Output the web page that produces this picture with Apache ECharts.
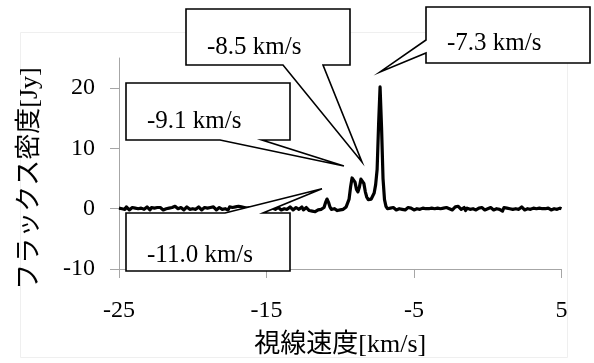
<!DOCTYPE html>
<html><head><meta charset="utf-8">
<script src="https://cdn.jsdelivr.net/npm/echarts@6/dist/echarts.min.js"></script>
<style>html,body{margin:0;padding:0;background:#fff}#c{width:594px;height:363px}</style>
</head><body><div id="c"></div>
<script>
// ---- data ----
const velocityStart = -25;   // km/s, first channel
const velocityStep = 0.1;    // km/s per channel
const flux = [
  0.1, -0.2, 0.0, 0.2, -0.1, 0.3, 0.1, -0.2, 0.0, 0.2,
  -0.1, 0.1, 0.3, 0.0, -0.2, 0.1, 0.2, -0.1, 0.0, 0.3,
  0.1, -0.2, 0.2, 0.0, 0.1, -0.1, 0.2, 0.4, 0.2, 0.0,
  -0.2, 0.1, 0.0, 0.3, 0.1, -0.1, 0.2, 0.0, 0.4, 0.2,
  0.0, -0.1, 0.2, 0.1, -0.2, 0.0, 0.3, 0.1, -0.1, 0.2,
  0.0, 0.2, -0.1, 0.1, 0.3, 0.0, -0.2, 0.1, 0.2, -0.1,
  0.1, 0.0, 0.2, -0.1, 0.3, 0.1, -0.2, 0.0, 0.2, 0.1,
  -0.1, 0.2, 0.0, 0.1, -0.2, 0.3, 0.1, 0.2, 0.0, 0.3,
  0.2, 0.4, 0.6, 0.3, 0.1, 0.2, -0.1, 0.1, 0.0, 0.2,
  -0.1, 0.1, 0.3, 0.0, -0.2, 0.2, 0.1, -0.1, 0.3, 0.0,
  0.1, -0.2, 0.2, 0.0, 0.1, 0.3, -0.1, 0.0, 0.2, 0.1,
  -0.2, 0.1, 0.0, 0.2, -0.1, 0.1, 0.3, 0.0, -0.2, 0.1,
  0.2, 0.0, -0.1, 0.1, 0.3, -0.2, 0.0, 0.2, 0.1, -0.3,
  -0.1, -0.4, -0.2, -0.5, -0.3, -0.2, -0.4, -0.1, -0.2, 0.2,
  1.0, 1.6, 1.1, 0.3, -0.1, -0.3, 0.0, -0.2, -0.3, 0.0,
  -0.2, 0.1, -0.1, 0.2, 0.3, 0.6, 1.6, 3.6, 5.1, 5.3,
  4.4, 3.2, 2.8, 3.6, 4.9, 5.1, 4.2, 2.8, 1.9, 1.5,
  1.4, 1.6, 1.9, 2.6, 4.0, 6.5, 14.0, 20.2, 13.5, 5.0,
  1.5, 0.4, 0.0, -0.2, 0.1, -0.1, 0.2, 0.0, -0.2, 0.1,
  0.0, 0.2, -0.1, 0.1, -0.2, 0.0, 0.2, -0.1, 0.1, 0.0,
  -0.2, 0.1, 0.0, 0.2, -0.1, 0.0, 0.1, -0.2, 0.0, 0.2,
  0.0, -0.1, 0.1, -0.2, 0.0, 0.2, 0.1, -0.1, 0.0, -0.2,
  0.1, 0.0, 0.2, -0.1, 0.0, 0.1, -0.2, 0.1, 0.3, 0.0,
  0.4, 0.1, -0.1, 0.0, 0.2, -0.3, 0.1, 0.0, -0.1, 0.1,
  0.0, 0.2, -0.2, 0.0, 0.1, -0.1, 0.2, 0.0, -0.2, 0.1,
  0.0, -0.1, 0.2, 0.0, -0.2, 0.1, 0.0, 0.2, -0.1, 0.0,
  -0.4, 0.2, 0.0, 0.1, -0.2, 0.0, 0.2, -0.1, 0.1, 0.0,
  0.2, -0.1, 0.0, 0.3, 0.0, -0.2, 0.1, 0.0, 0.2, -0.1,
  0.0, 0.1, -0.2, 0.0, 0.2, 0.1, -0.1, 0.0, 0.2, 0.0,
  -0.1, 0.1, 0.0, -0.2, 0.1, 0.0, 0.2, -0.1, 0.0, 0.1,
  0.0
];
const xRange = [-25, 5];
const xTickValues = [-25, -15, -5, 5];
const yRange = [-10, 25];
const yTickValues = [-10, 0, 10, 20];
const xAxisName = '視線速度[km/s]';
const yAxisName = 'フラックス密度[Jy]';
const calloutLabels = ['-11.0 km/s', '-9.1 km/s', '-8.5 km/s', '-7.3 km/s'];
const calloutTipVelocity = [-11.24, -9.75, -8.53, -7.3];
const calloutTipFlux = [3.3, 7.1, 7.75, 22.7];

// ---- layout (pixels) ----
const calloutBoxes = [
  {x: 126, y: 213, w: 164, h: 58, side: 'top', base: [225, 263], ty: 42},
  {x: 126, y: 83, w: 164, h: 57, side: 'bottom', base: [220, 262], ty: 38},
  {x: 186, y: 9, w: 164, h: 56, side: 'bottom', base: [283, 323], ty: 38},
  {x: 426, y: 7, w: 164, h: 56, side: 'left', base: [40, 53], ty: 36}
];
const serif = "'Liberation Serif', 'Noto Sans CJK JP', serif";
const axisGray = '#a6a6a6';

const chart = echarts.init(document.getElementById('c'), null, {renderer: 'canvas'});
const seriesData = flux.map((f, i) => [+(velocityStart + i * velocityStep).toFixed(1), f]);

chart.setOption({
  animation: false,
  backgroundColor: '#fff',
  grid: {left: 119, right: 32.5, top: 58, bottom: 92, containLabel: false},
  xAxis: {
    type: 'value', min: xRange[0], max: xRange[1], interval: 10,
    axisLine: {show: true, onZero: false, lineStyle: {color: axisGray, width: 1}},
    axisTick: {show: true, inside: false, length: 9, lineStyle: {color: axisGray}, customValues: xTickValues},
    axisLabel: {color: '#000', fontFamily: serif, fontSize: 24, margin: 30, customValues: xTickValues},
    splitLine: {show: false},
    name: xAxisName, nameLocation: 'middle', nameGap: 63,
    nameTextStyle: {color: '#000', fontFamily: serif, fontSize: 26}
  },
  yAxis: {
    type: 'value', min: yRange[0], max: yRange[1], interval: 10,
    axisLine: {show: true, onZero: false, lineStyle: {color: axisGray, width: 1}},
    axisTick: {show: true, inside: false, length: 9, lineStyle: {color: axisGray}, customValues: yTickValues},
    axisLabel: {color: '#000', fontFamily: serif, fontSize: 24, margin: 24, customValues: yTickValues},
    splitLine: {show: false},
    name: yAxisName, nameLocation: 'middle', nameGap: 76, nameRotate: 90,
    nameTextStyle: {color: '#000', fontFamily: serif, fontSize: 26, padding: [0, 30, 0, 0]}
  },
  series: [{
    type: 'line', data: seriesData, showSymbol: false, symbol: 'none',
    lineStyle: {color: '#000', width: 3.2, join: 'round'}, z: 2
  }]
});

function calloutPoints(b, tip) {
  const x0 = b.x, y0 = b.y, x1 = b.x + b.w, y1 = b.y + b.h;
  if (b.side === 'bottom') return [[x0, y0], [x1, y0], [x1, y1], [b.base[1], y1], tip, [b.base[0], y1], [x0, y1]];
  if (b.side === 'top') return [[x0, y0], [b.base[0], y0], tip, [b.base[1], y0], [x1, y0], [x1, y1], [x0, y1]];
  return [[x0, y0], [x1, y0], [x1, y1], [x0, y1], [x0, b.base[1]], tip, [x0, b.base[0]]];
}

const graphics = [{
  type: 'rect', silent: true, z: 0,
  shape: {x: 20.5, y: 32.5, width: 547, height: 325},
  style: {fill: 'none', stroke: '#efefef', lineWidth: 1}
}];
calloutBoxes.forEach((b, i) => {
  const tip = chart.convertToPixel({seriesIndex: 0}, [calloutTipVelocity[i], calloutTipFlux[i]]);
  graphics.push({
    type: 'polygon', z: 100,
    shape: {points: calloutPoints(b, tip)},
    style: {fill: '#fff', stroke: '#000', lineWidth: 1.6, lineJoin: 'miter'}
  });
  graphics.push({
    type: 'text', z: 101, x: b.x + 21, y: b.y + b.ty,
    style: {text: calloutLabels[i], fill: '#000', font: "25px 'Liberation Serif', serif", textVerticalAlign: 'middle', textAlign: 'left'}
  });
});
chart.setOption({graphic: graphics});
</script>
</body></html>
